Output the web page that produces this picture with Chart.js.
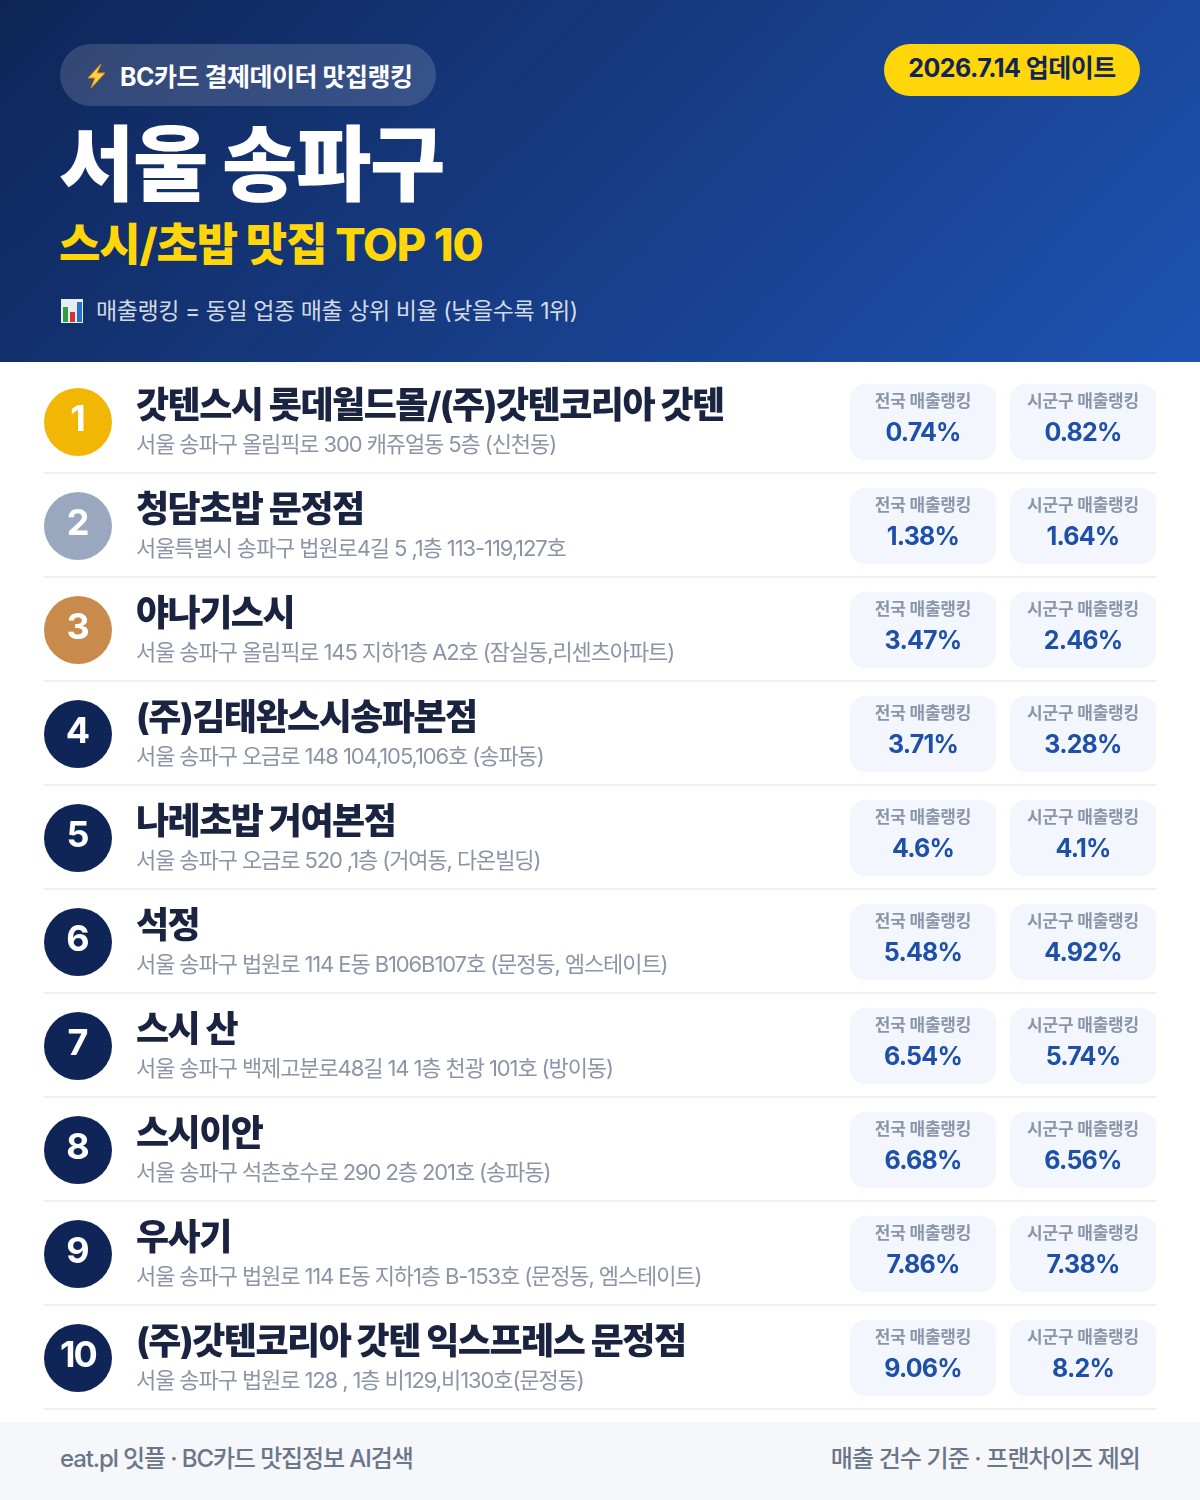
<!DOCTYPE html>
<html lang="ko">
<head>
<meta charset="utf-8">
<title>서울 송파구 스시/초밥 맛집 TOP 10</title>
<script src="https://cdn.jsdelivr.net/npm/chart.js@4/dist/chart.umd.min.js"></script>
<style>
    html, body { margin: 0; padding: 0; background: #fff; }
    body { width: 1200px; height: 1500px; position: relative; overflow: hidden;
        font-family: Inter, "Noto Sans CJK KR", sans-serif; }
    .header { position: absolute; left: 0; top: 0; width: 1200px; height: 362px;
        background: linear-gradient(135deg, #0f2557 0%, #1e53b2 100%); }
    .header div, .footer div { position: absolute; white-space: nowrap; }
    .badge { left: 60px; top: 44px; width: 376px; height: 62px; border-radius: 31px;
        background: rgba(255, 255, 255, 0.15); }
    .badge-text { left: 120px; top: 46px; line-height: 62px; font-size: 25px; font-weight: 700;
        color: #fff; letter-spacing: -0.5px; }
    .bolt { left: 85px; top: 63px; }
    .date { left: 884px; top: 44px; width: 256px; height: 52px; border-radius: 26px; background: #ffd60a;
        line-height: 48px; text-align: center; font-size: 25px; font-weight: 700; color: #0f2557; letter-spacing: -0.5px; }
    .title { left: 59px; top: 109px; line-height: 112px; font-size: 82px; font-weight: 900; color: #fff; letter-spacing: -1.4px; }
    .subtitle { left: 59px; top: 213px; line-height: 64px; font-size: 45px; font-weight: 800; color: #ffd60a; letter-spacing: -1.1px; }
    .note { left: 96px; top: 292px; line-height: 38px; font-size: 23px; font-weight: 400;
        color: rgba(255, 255, 255, 0.82); letter-spacing: -0.43px; }
    .note-icon { left: 61px; top: 299px; }
    .footer { position: absolute; left: 0; top: 1422px; width: 1200px; height: 78px; background: #f5f7fb; }
    .footer div { top: 0; line-height: 74px; font-size: 24px; font-weight: 500; color: #6b7688; letter-spacing: -0.9px; }
    #rankingChart { position: absolute; left: 0; top: 362px; }
</style>
</head>
<body>
<div class="header">
    <div class="badge"></div>
    <div class="bolt"><svg width="22" height="26" viewBox="0 0 22 26"><path d="M16 1 L3 15 H10 L6 25 L20 10 H12 Z" fill="#ffd23f" stroke="#e08a1e" stroke-width="1"/></svg></div>
    <div class="badge-text">BC카드 결제데이터 맛집랭킹</div>
    <div class="date">2026.7.14 업데이트</div>
    <div class="title">서울 송파구</div>
    <div class="subtitle">스시/초밥 맛집 TOP 10</div>
    <div class="note-icon"><svg width="22" height="24" viewBox="0 0 22 24"><rect width="22" height="24" fill="#e8edf3"/><rect x="2" y="8" width="5" height="15" fill="#2f9e44"/><rect x="9" y="13" width="5" height="10" fill="#d9342b"/><rect x="16" y="3" width="5" height="20" fill="#2a6fc9"/></svg></div>
    <div class="note">매출랭킹 = 동일 업종 매출 상위 비율 (낮을수록 1위)</div>
</div>
<canvas id="rankingChart" width="1200" height="1060"></canvas>
<div class="footer">
    <div style="left:60px;letter-spacing:-1.1px">eat.pl 잇플 · BC카드 맛집정보 AI검색</div>
    <div style="right:60px">매출 건수 기준 · 프랜차이즈 제외</div>
</div>
<script>
const ranks = ['1', '2', '3', '4', '5', '6', '7', '8', '9', '10'];
const restaurantNames = [
    '갓텐스시 롯데월드몰/(주)갓텐코리아 갓텐',
    '청담초밥 문정점',
    '야나기스시',
    '(주)김태완스시송파본점',
    '나레초밥 거여본점',
    '석정',
    '스시 산',
    '스시이안',
    '우사기',
    '(주)갓텐코리아 갓텐 익스프레스 문정점'
];
const addresses = [
    '서울 송파구 올림픽로 300 캐쥬얼동 5층 (신천동)',
    '서울특별시 송파구 법원로4길 5 ,1층 113-119,127호',
    '서울 송파구 올림픽로 145 지하1층 A2호 (잠실동,리센츠아파트)',
    '서울 송파구 오금로 148 104,105,106호 (송파동)',
    '서울 송파구 오금로 520 ,1층 (거여동, 다온빌딩)',
    '서울 송파구 법원로 114 E동 B106B107호 (문정동, 엠스테이트)',
    '서울 송파구 백제고분로48길 14 1층 천광 101호 (방이동)',
    '서울 송파구 석촌호수로 290 2층 201호 (송파동)',
    '서울 송파구 법원로 114 E동 지하1층 B-153호 (문정동, 엠스테이트)',
    '서울 송파구 법원로 128 , 1층 비129,비130호(문정동)'
];
const nationalRanking = [0.74, 1.38, 3.47, 3.71, 4.6, 5.48, 6.54, 6.68, 7.86, 9.06];
const districtRanking = [0.82, 1.64, 2.46, 3.28, 4.1, 4.92, 5.74, 6.56, 7.38, 8.2];
const nationalLabel = '전국 매출랭킹';
const districtLabel = '시군구 매출랭킹';

const FONT = 'Inter, "Noto Sans CJK KR", sans-serif';
const NAVY = '#0f2557';
const medalColors = ['#f2b705', '#9aa8bf', '#c98b4b'];
const nationalCard = [850, 996];
const districtCard = [1010, 1156];
const circleX = 78;
const textX = 136;

function drawText(ctx, text, x, y, font, color, align, spacing) {
    ctx.font = font;
    ctx.fillStyle = color;
    ctx.textAlign = align;
    ctx.textBaseline = 'middle';
    ctx.letterSpacing = spacing;
    ctx.fillText(text, x, y);
}

// separators sit one pixel above the band edge, so the grid can't draw them
const separatorPlugin = {
    id: 'separators',
    beforeDatasetsDraw(chart) {
        const ctx = chart.ctx;
        const y = chart.scales.y;
        const area = chart.chartArea;
        ctx.save();
        ctx.fillStyle = '#eef0f4';
        ranks.forEach((rank, i) => {
            ctx.fillRect(area.left, Math.round(y.getPixelForValue(i)) + 50, area.right - area.left, 2);
        });
        ctx.restore();
    }
};

const rowTextPlugin = {
    id: 'rowText',
    afterDatasetsDraw(chart) {
        const ctx = chart.ctx;
        const x = chart.scales.x;
        const y = chart.scales.y;
        ctx.save();
        ranks.forEach((rank, i) => {
            const mid = y.getPixelForValue(i);
            drawText(ctx, rank, x.getPixelForValue(circleX), mid - 2, '700 36px ' + FONT, '#fff', 'center', rank.length > 1 ? '-2px' : '0px');
            drawText(ctx, restaurantNames[i], x.getPixelForValue(textX), mid - 15, '800 36px ' + FONT, '#1a2340', 'left', '-1.5px');
            drawText(ctx, addresses[i], x.getPixelForValue(textX), mid + 23, '400 22px ' + FONT, '#8b95a7', 'left', '-1.1px');

            const nationalMid = x.getPixelForValue((nationalCard[0] + nationalCard[1]) / 2);
            const districtMid = x.getPixelForValue((districtCard[0] + districtCard[1]) / 2);
            drawText(ctx, nationalLabel, nationalMid, mid - 20, '700 17px ' + FONT, '#8b95a7', 'center', '-0.2px');
            drawText(ctx, districtLabel, districtMid, mid - 20, '700 17px ' + FONT, '#8b95a7', 'center', '-0.2px');
            drawText(ctx, nationalRanking[i] + '%', nationalMid, mid + 11.5, '700 25px ' + FONT, '#1e50a8', 'center', '-0.8px');
            drawText(ctx, districtRanking[i] + '%', districtMid, mid + 11.5, '700 25px ' + FONT, '#1e50a8', 'center', '-0.8px');
        });
        ctx.restore();
    }
};

new Chart(document.getElementById('rankingChart'), {
    type: 'bar',
    data: {
        labels: ranks,
        datasets: [
            {
                label: nationalLabel,
                data: ranks.map(() => nationalCard),
                backgroundColor: '#f3f6fd',
                borderRadius: 16,
                borderSkipped: false,
                barThickness: 76,
                grouped: false
            },
            {
                label: districtLabel,
                data: ranks.map(() => districtCard),
                backgroundColor: '#f3f6fd',
                borderRadius: 16,
                borderSkipped: false,
                barThickness: 76,
                grouped: false
            },
            {
                type: 'scatter',
                label: '순위',
                data: ranks.map(rank => ({ x: circleX, y: rank })),
                pointRadius: 34,
                pointHoverRadius: 34,
                borderWidth: 0,
                backgroundColor: ranks.map((rank, i) => medalColors[i] || NAVY)
            }
        ]
    },
    options: {
        indexAxis: 'y',
        responsive: false,
        animation: false,
        events: [],
        layout: { autoPadding: false, padding: { left: 44, right: 44, top: 8, bottom: 12 } },
        plugins: { legend: { display: false }, tooltip: { enabled: false } },
        scales: {
            x: { type: 'linear', min: 44, max: 1156, display: false },
            y: { type: 'category', offset: true, display: false }
        }
    },
    plugins: [separatorPlugin, rowTextPlugin]
});
</script>
</body>
</html>
